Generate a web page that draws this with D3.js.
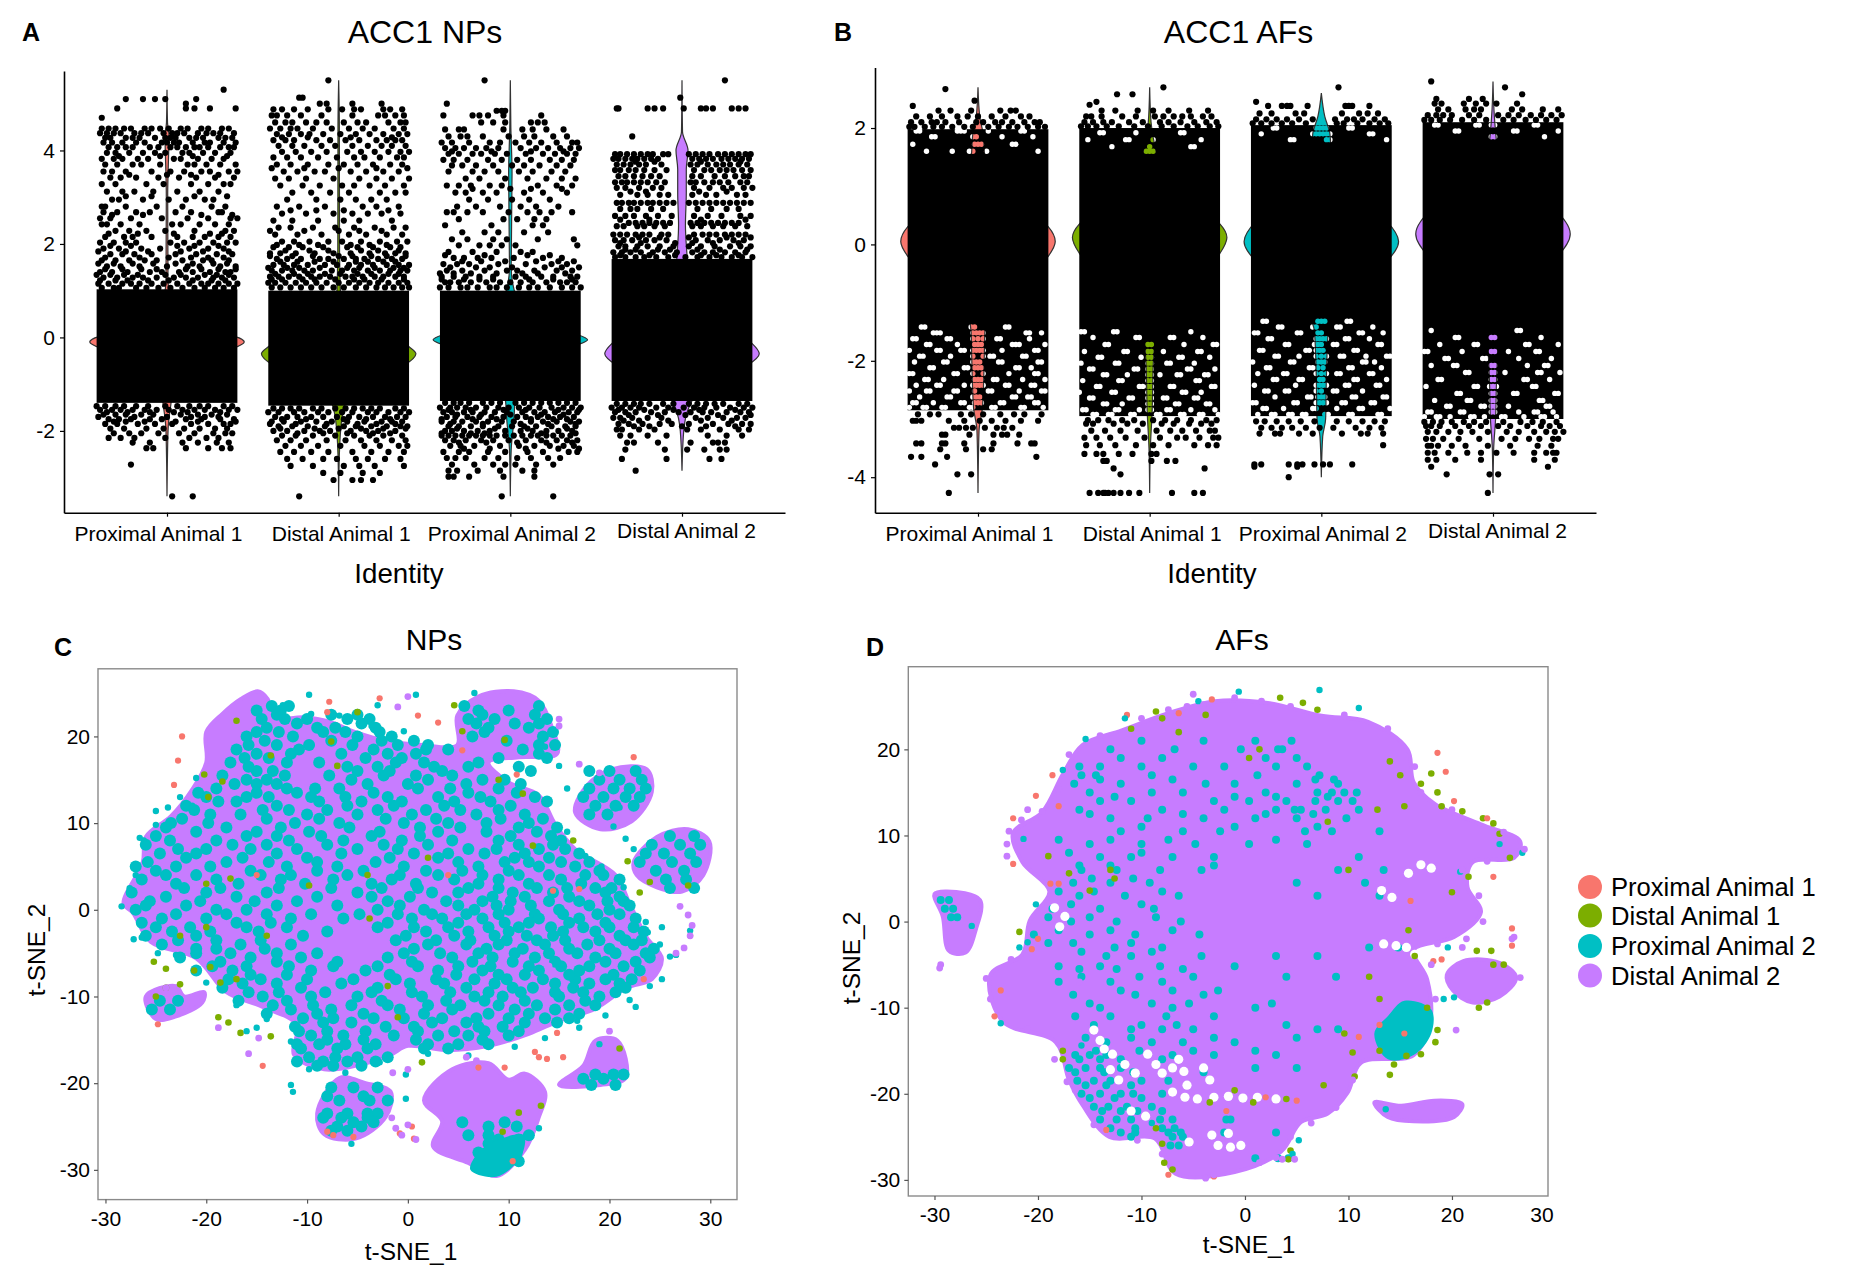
<!DOCTYPE html>
<html>
<head>
<meta charset="utf-8">
<script src="https://cdn.jsdelivr.net/npm/d3@7"></script>
<style>
body { margin: 0; background: #fff; }
text { font-family: "Liberation Sans", sans-serif; fill: #000; }
</style>
</head>
<body>
<svg id="fig" width="1856" height="1276"></svg>
<script>
const identities = ["Proximal Animal 1", "Distal Animal 1", "Proximal Animal 2", "Distal Animal 2"];
const colors = ["#F8766D", "#7CAE00", "#00BFC4", "#C77CFF"];

// solid part of each jitter cloud: [top, bottom]
const npsCore = [[1.03, -1.4], [1.0, -1.46], [1.0, -1.36], [1.68, -1.36]];
const afsCore = [[1.98, -2.85], [2.0, -2.95], [2.05, -2.95], [2.1, -3.0]];

// violin outlines: [value, half width in % of category step]
const npsViolin1 = [[5.3,0],[4.6,.3],[4.3,1.2],[4,1],[3,.4],[1.2,.6],[.6,5],[.3,14],[.1,34],[-.1,45],[-.3,34],[-.6,14],[-1.1,4],[-1.5,2],[-2,.6],[-3.4,0]];
const npsViolin2 = [[5.5,0],[4.5,.4],[2,.5],[1,1],[.5,6],[.1,28],[-.2,41],[-.35,45],[-.6,38],[-1,10],[-1.7,2],[-2.5,.4],[-3.4,0]];
const npsViolin3 = [[5.5,0],[4.5,.3],[3.5,1],[1.5,.5],[.8,4],[.3,18],[.1,36],[-.05,45],[-.2,36],[-.6,14],[-1.3,3],[-1.8,2],[-2.4,.5],[-3.4,0]];
const npsViolin4 = [[5.5,0],[4.4,.3],[4,3.5],[3.6,2.5],[3.1,2.5],[2.4,2],[1.7,3],[1,4],[.3,24],[-.1,40],[-.35,45],[-.6,38],[-1,14],[-1.5,4],[-2,1],[-2.85,0]];
const afsViolin1 = [[2.7,0],[2.2,1],[1.9,3],[1.5,4],[1,10],[.6,28],[.3,41],[.05,45],[-.2,41],[-.6,26],[-1,10],[-1.5,4],[-2,3.6],[-2.8,2.6],[-3.2,.6],[-4.27,0]];
const afsViolin2 = [[2.7,0],[2.1,.8],[1.7,3],[1,12],[.6,30],[.35,41],[.12,45],[-.15,41],[-.6,26],[-1.2,6],[-2,2.2],[-2.9,1.4],[-3.5,.4],[-4.27,0]];
const afsViolin3 = [[2.6,0],[2.2,2],[1.9,5],[1.4,6],[.8,20],[.4,38],[.05,45],[-.3,38],[-.8,18],[-1.5,4],[-2.2,3],[-3,2.5],[-3.3,.8],[-4,0]];
const afsViolin4 = [[2.8,0],[2.2,.8],[1.6,3],[1,18],[.6,36],[.18,45],[-.2,38],[-.7,20],[-1.4,4],[-2.4,2],[-3,1.5],[-3.5,.4],[-4.27,0]];

// jitter rows: [value, offsets in % of category step...]
const npsDots1 = [
[5.3,33],[5.1,-24,-14,-7,-1,17],[5,11],[4.9,-29,11,16,25,40],[4.7,-38],
[4.47,-38,-34,-30,-25,-21,-13,-9,-4,1,8,12,20,24,32,36],
[4.37,-39,-35,-31,-27,-19,-15,-11,-2,3,6,10,18,23,27,31,39],
[4.27,-36,-33,-24,-20,-16,-7,-1,2,5,13,17,21,30,34,38],
[4.17,-37,-32,-26,-18,-13,-3,0,4,7,15,22,25,33,40],
[4.07,-34,-29,-24,-20,-10,-5,2,6,11,16,19,24,31,36,39],
[3.95,-35,-30,-22,-14,-7,-1,9,13,21,28,37],[3.82,-38,-31,-26,-17,-11,4,8,18,26,33],
[3.7,-36,-29,-20,-15,-4,12,16,23,31,40],[3.55,-37,-32,-24,-9,2,10,20,25,36,41],
[3.42,-33,-27,-18,-5,7,17,28,39],[3.28,-38,-30,-12,-2,14,24,33,37],[3.12,-35,-26,-19,-8,6,19,30],
[2.95,-32,-28,-14,1,11,22,27],[2.8,-38,-36,-24,-6,9,26,34],[2.68,-37,-29,-18,-10,5,14,30,32],
[2.55,-39,-33,-21,-3,12,24,37,41],[2.42,-38,-35,-27,-16,3,8,19,28,36],[2.28,-30,-22,-12,-1,16,34,39],
[2.15,-36,-25,-20,-9,6,15,22,30,37],[2.03,-39,-31,-24,-18,2,10,19,27,35,40],[1.9,-37,-28,-15,-4,13,24,33],
[1.78,-33,-26,-19,-9,5,17,29,38],[1.65,-38,-30,-22,-13,-6,9,21,26,36],[1.52,-35,-27,-16,0,12,19,31,40],
[1.4,-39,-32,-23,-10,-3,7,15,25,34,37],[1.28,-37,-29,-20,-14,-6,4,11,18,27,32,39],
[1.15,-40,-34,-26,-21,-16,-9,-2,6,13,20,24,30,36,41],[1.06,-38,-31,-28,-18,-12,-5,2,9,16,22,28,33,39],
[-1.47,-41,-36,-30,-25,-18,-11,-1,6,13,19,24,33,38],
[-1.55,-39,-32,-27,-20,-13,-6,1,9,16,22,28,36,41],[-1.65,-37,-30,-24,-15,-8,8,18,26,35],
[-1.75,-34,-28,-21,-10,-3,11,20,31,39],[-1.85,-36,-29,-17,-7,3,14,24,33,37],[-1.95,-33,-25,-12,-2,10,19,28,35],
[-2.05,-31,-22,-15,-5,7,16,27,34,38],[-2.15,-34,-27,-19,-1,13,23,30],[-2.25,-20,-10,9,18,29,36],[-2.37,-12,-8,11,24,32,37],
[-2.72,-21],[-3.4,3,15]];
const npsExtra1 = [[3.88,-28,-4,15,35],[3.48,-22,0,14,30],[3.02,-24,-9,16,35],[2.62,-32,-14,20,38],[2.22,-34,-17,4,25,32],[1.96,-33,-21,6,16,30],[1.84,-40,-24,-11,8,21,36],[1.71,-36,-16,1,14,24,33],[1.58,-40,-31,-20,-8,5,15,27,35],[1.46,-36,-26,-15,-6,11,20,30,40],[1.34,-41,-33,-25,-17,-1,8,22,29,36],[1.22,-39,-30,-23,-11,1,15,26,34],[-1.6,-35,-23,-10,4,12,31],[-1.7,-40,-19,0,14,22,30],[-1.8,-31,-24,-13,5,18,40]];
const npsDots2 = [
[5.5,-6],[5.13,-23,-21],[5,-11,-7,8,25],[4.88,-38,-33,-26,-18,-6,2,9,13,26,30,37],[4.75,-39,-36,-30,-22,-10,8,23,27,33,38],
[4.6,-37,-31,-27,-19,-13,-7,3,11,16,29,36,39],[4.47,-40,-34,-28,-24,-15,-4,6,14,21,32,38],[4.35,-36,-29,-22,-17,-9,1,10,18,26,35,40],
[4.22,-38,-31,-26,-13,-5,4,12,22,28,33,37],[4.1,-35,-27,-20,-10,-2,8,17,25,31,39],[3.97,-33,-25,-16,-7,5,13,21,29,36,41],
[3.85,-38,-30,-22,-12,-1,9,15,24,34,38],[3.7,-36,-28,-18,-6,3,11,20,30,37],[3.55,-32,-24,-14,-8,7,16,26,35],
[3.4,-37,-29,-19,-3,12,22,31,41],[3.25,-34,-21,-11,2,9,18,27,38],[3.1,-27,-16,-5,6,24,33,39],[2.95,-30,-13,1,10,19,28],
[2.8,-36,-23,-8,14,22,35],[2.65,-33,-19,-3,8,17,25,36],[2.5,-38,-27,-12,3,12,31],[2.35,-35,-28,-15,-2,9,21,32,39],
[2.2,-37,-24,-10,6,16,28,37],[2.05,-33,-26,-17,-6,2,13,24,34,40],[1.93,-38,-29,-21,-9,5,11,20,30,36],
[1.8,-40,-34,-25,-14,-3,7,18,27,33,39],[1.68,-36,-30,-22,-11,-6,3,10,15,23,31,37],[1.55,-38,-32,-26,-18,-8,-1,6,13,20,28,35,41],
[1.43,-39,-33,-27,-20,-15,-4,2,9,17,24,30,36,40],[1.3,-40,-35,-29,-23,-16,-11,-5,4,8,14,21,26,33,38],
[1.17,-41,-37,-31,-25,-19,-13,-7,0,6,12,18,23,29,35,40],[1.07,-39,-34,-28,-22,-16,-10,-3,3,10,16,22,27,32,37,41],
[-1.52,-38,-33,-28,-23,-15,-10,-2,4,9,14,19,24,33,38],
[-1.6,-41,-35,-26,-20,-12,-6,2,8,17,22,29,36,41],[-1.7,-37,-30,-24,-16,-9,-1,6,12,20,27,34,39],[-1.8,-39,-32,-22,-13,-4,5,15,25,31,37],
[-1.9,-35,-27,-18,-8,3,10,19,28,36,40],[-2,-38,-30,-20,-11,-5,7,16,23,33],[-2.1,-33,-25,-15,-2,9,18,26,37],[-2.2,-36,-28,-19,-7,4,13,22,31,39],
[-2.32,-31,-22,-12,1,15,24,35,40],[-2.45,-34,-26,-16,-6,8,19,29,38],[-2.6,-30,-21,-9,-1,10,17,27,36],[-2.75,-28,-15,3,12,21,38],
[-2.9,-9,1,14,24],[-3.05,-3,8,13,20],[-3.4,-23]];
const npsExtra2 = [[4.28,-33,-18,7,31],[3.62,-39,-20,0,22,40],[2.72,-28,-13,3,29],[2.28,-40,-20,0,12,25],[1.98,-36,-23,-12,7,18,28],[1.86,-31,-17,-6,13,23,35],[1.74,-40,-27,-15,0,8,19,28,39],[1.62,-34,-24,-14,-3,10,17,26,33],[1.49,-41,-30,-23,-11,5,12,21,32,38],[1.36,-37,-26,-18,-8,1,11,19,29,35],[1.24,-39,-33,-21,-14,-2,9,15,25,38],[-1.75,-33,-19,3,16,30],[-1.85,-40,-25,-7,11,22,33],[-1.95,-34,-14,0,13,26,39],[-2.05,-24,-9,5,20,30]];
const npsDots3 = [
[5.5,-15],[5,-37],[4.85,-8,-5,-3],[4.75,-39,-22,-18,-13,-4,18],[4.6,-17,-10,-3,12,16,20],
[4.45,-38,-30,-27,-4,7,13,21,31],[4.3,-36,-29,-25,-16,-1,8,14,25,33],[4.17,-40,-34,-24,-12,-6,3,11,18,27,36,39],
[4.05,-38,-32,-27,-20,-14,-7,6,15,22,29,35,40],[3.93,-36,-30,-22,-17,-9,-2,9,19,26,33,38],[3.8,-39,-33,-25,-13,-5,4,12,23,30,37],
[3.68,-34,-28,-20,-10,1,8,17,27,35],[3.55,-36,-22,-15,-7,5,13,24,32],[3.4,-26,-18,-3,10,21,30,38],
[3.25,-37,-30,-23,-12,-5,16,27,36],[3.1,-32,-26,-16,-8,8,19,33],[2.95,-24,-13,1,11,23],[2.8,-31,-20,-6,6,15,28],
[2.68,-37,-33,-25,-16,-1,10,17,24,36],[2.53,-30,-4,4,14,21],[2.4,-38,-11,13,19],[2.25,-28,-15,-7,8,22],
[2.1,-34,-25,-10,-2,16,37],[1.97,-30,-18,-12,-5,3,39],[1.83,-36,-22,-8,6,13],[1.7,-33,-27,-19,-11,2,19,30],
[1.57,-39,-31,-24,-7,9,24,33],[1.43,-37,-28,-15,-2,4,14,27,36],[1.3,-40,-33,-26,-18,-10,3,9,18,25,35,39],
[1.18,-38,-35,-30,-23,-14,-6,0,6,13,21,29,33,38],[1.07,-41,-36,-29,-25,-19,-12,-8,-2,5,11,16,23,30,36,41],
[-1.4,-38,-33,-29,-24,-16,-11,-6,3,8,13,18,23,28,33,38],
[-1.5,-41,-35,-31,-26,-20,-14,-7,-1,5,11,17,24,31,36,41],[-1.6,-39,-34,-27,-22,-15,-9,-2,7,14,20,26,34,39],
[-1.7,-37,-32,-25,-18,-11,-4,4,9,16,22,29,37],[-1.8,-40,-33,-28,-20,-13,-5,2,12,19,27,35,40],[-1.9,-36,-30,-23,-16,-7,1,8,15,24,32,38],
[-2,-38,-34,-27,-19,-12,-3,6,13,21,28,36],[-2.1,-40,-36,-32,-28,-24,-20,-16,-12,-8,-3,2,7,12,16,21,25,30,35],
[-2.2,-38,-33,-26,-17,-10,-1,9,18,27,33,39],[-2.32,-35,-29,-21,-6,5,14,23,31,37],[-2.45,-39,-30,-24,-13,-3,10,19,34,39],
[-2.58,-37,-32,-26,-15,-7,4,12,22,29],[-2.72,-34,-21,-10,-3,3,15,25],[-2.85,-36,-31,-19,-6,7,14],[-2.98,-36,-33,-24,-4,14],[-3.4,-5,25]];
const npsExtra3 = [[3.98,-34,-11,12,31],[3.18,-22,0,12,30],[1.76,-38,-15,10,23],[1.63,-28,-17,-3,15,28,37],[1.5,-35,-20,-12,1,20,30,40],[1.37,-41,-33,-23,-8,7,16,32],[1.24,-40,-27,-18,-10,11,25,36],[-1.55,-36,-23,-4,9,28,40],[-1.65,-31,-17,0,18,31],[-1.75,-40,-22,-8,12,25,33],[-1.85,-35,-16,6,22,38],[-1.95,-31,-9,10,33],[-2.05,-40,-23,-15,18,38],[-2.25,-30,-14,4,21,36],[-2.38,-27,-12,9,28,40]];
const npsDots4 = [
[5.5,25],[5.13,-1],[4.9,-38,-37,-20,-16,-11,1,11,14,18,29,33,37],[4.3,-29],
[3.92,-39,-36,-32,-28,-24,-20,-17,-11,-8,4,8,12,16,21,25,29,33,37,40],
[3.82,-40,-37,-33,-29,-26,-22,-18,-14,6,10,14,18,23,27,31,35,39],
[3.7,-38,-34,-30,-25,-21,-12,5,9,15,20,24,28,33,38],[3.58,-39,-36,-31,-27,-22,-16,-9,7,13,17,22,26,30,35,40],
[3.45,-37,-33,-28,-23,-18,-13,6,11,19,25,31,36,39],[3.32,-39,-35,-32,-28,-24,-20,-15,-10,5,8,13,18,22,27,34,38],
[3.2,-38,-33,-25,-17,-12,7,16,24,29,36,41],[3.05,-36,-26,-20,-13,-8,6,14,20,32,37],
[2.88,-38,-35,-31,-28,-24,-20,-17,-13,-9,-5,4,8,12,16,20,24,28,32,36,40],[2.75,-36,-30,-26,-18,-11,9,17,26,33],
[2.6,-39,-33,-28,-21,-14,-6,7,15,23,34,40],[2.45,-31,-27,-23,-19,-15,-11,-7,5,9,13,17,21,25,29,33],
[2.38,-38,-34,-26,-22,-16,-10,6,11,18,24,31,38],[2.2,-40,-36,-32,-27,-23,-19,-12,-8,7,12,16,20,25,29,33,37],
[2.08,-39,-34,-29,-21,-16,-9,8,15,22,30,36],[1.95,-37,-33,-26,-20,-13,-5,4,11,19,28,34,40],
[1.82,-40,-35,-30,-24,-17,-10,-3,6,13,18,25,31,37],[1.72,-39,-33,-27,-22,-15,-8,2,9,16,23,29,35,41],
[-1.42,-38,-33,-28,-24,-19,-11,-5,4,9,14,19,24,33,38],
[-1.5,-41,-35,-30,-25,-15,-8,1,7,13,20,28,36,41],[-1.6,-39,-33,-27,-18,-10,-2,5,12,17,26,34,39],
[-1.72,-40,-36,-29,-20,-12,8,15,24,32,37],[-1.85,-37,-31,-23,-13,-6,4,18,27,35,40],[-1.97,-38,-35,-25,-16,3,11,22,33,39],
[-2.1,-36,-30,-20,-9,15,26,35],[-2.25,-32,-28,-14,5,18,21,25],[-2.4,-33,-10,3,13,22,26],[-2.6,-35,-9,16,23],[-2.85,-27]];
const npsExtra4 = [[3.76,-27,-16,11,34],[3.12,-30,-21,10,26],[2.52,-36,-19,11,37],[2.14,-25,-13,4,26,40],[2.02,-36,-24,-4,6,18,33],[1.88,-33,-27,-14,-7,9,22,38],[1.76,-36,-19,-4,11,20,33],[-1.55,-37,-22,-5,10,31],[-1.66,-31,-14,2,21,40],[-1.78,-34,-25,-8,11,29],[-1.9,-28,-19,0,14,31]];

const afsDots1 = [
[2.67,-19],[2.47,-2],[2.38,-38],[2.3,-23,-16,-4,13,19,22],[2.2,-36,-28,-21,-12,-6,0,8,16,25,30],
[2.1,-39,-33,-27,-24,-19,-11,-1,3,10,14,20,27,33,36],[2.02,-40,-37,-31,-26,-21,-15,-8,-3,6,12,18,23,29,35,39],
[-2.92,-35,-28,-23,-10,-4,3,13,21,27,37],[-3.03,-38,-36,-33,-17,-8,1,8,16,25,35],
[-3.15,-14,-11,-7,-3,4,11,15,20],[-3.27,-21,-19,-5,9,14,17,24],[-3.42,-36,-33,-21,-19,-8,9,23,31,33],[-3.52,-22,-7,3,8],
[-3.65,-39,-33,-18,34],[-3.78,-25],[-3.95,-12,-4],[-4.27,-17]];
// gaps between the points inside a solid band, same layout as the rows
const afsHoles1 = [
[1.95,-36,-34,-12,-10,-8,6,25,27],[1.85,-27,-25,-3,-1,14,32],[1.72,-38,-2,0,2,20,22],[1.6,-30,-15,-5,-3,5,35],
[-1.42,-33,-31,-4,-2,16,18],[-1.52,-26,-24,-22,-3,-1,1,3,28,30,37],[-1.62,-38,-36,-18,-16,-3,0,3,11,13,30],[-1.72,-30,-28,-12,-2,0,2,20,22,24,39],
[-1.82,-40,-24,-22,-10,-8,-3,-1,1,3,14,33,35],[-1.92,-34,-32,-16,-3,3,7,9,26,28],[-2.02,-37,-20,-18,-3,-1,1,12,14,35,37],[-2.12,-28,-26,-8,-6,-2,0,2,22,24,31],
[-2.22,-40,-38,-14,-12,-3,3,18,33,35],[-2.32,-31,-29,-20,-2,0,2,9,11,26,39],[-2.42,-36,-24,-22,-8,-3,-1,1,3,16,18,31,33],[-2.52,-40,-30,-28,-14,-12,-2,6,8,24,37,39],
[-2.62,-34,-18,-16,-3,-1,1,20,22,29,31],[-2.72,-38,-36,-26,-10,-8,-2,0,2,13,15,33,35],[-2.8,-40,-32,-30,-21,-19,-5,-3,8,10,25,27,38]];
const afsDots2 = [
[2.7,8],[2.58,-19,-10],[2.45,-31],[2.4,-35],[2.3,-28,-20,-7,2,11,23,34],[2.2,-37,-34,-28,-16,-8,3,8,14,19,24,31,36],
[2.1,-38,-33,-27,-22,-12,-4,6,11,18,26,33,39],[2.03,-40,-36,-31,-25,-18,-9,-1,7,14,22,28,35,40],
[-3.02,-36,-30,-24,-16,-9,2,9,16,24,33,39],[-3.08,-37,-33,-21,-13,-4,7,14,23,30,36],
[-3.2,-34,-26,-17,-7,4,12,19,27,35,38],[-3.32,-38,-31,-23,-14,-3,6,16,21,29,37,40],[-3.45,-37,-29,-20,-8,2,11,26,34,39],
[-3.6,-38,-31,-27,-18,-10,1,4],[-3.72,-27,-25,1,10,15],[-3.85,32,-21],[-3.95,-17],[-4.27,-35,-30,-27,-26,-24,-21,-17,-12,-6,13,26,31]];
const afsHoles2 = [
[1.92,-29,-27,-8,18,20],[1.8,-36,-14,-12,2,30],[1.68,-22,0,24,26],[1.6,-2,0,2],
[-1.5,-40,-38,-21,-19,24],[-1.6,-33,-8,-6,12,14,31],[-1.72,-26,-24,-1,1,20,37,39],[-1.84,-38,-15,-13,-1,1,8,28,30],[-1.94,-30,-28,-5,-1,1,17,19,35],
[-2.04,-40,-20,-18,-1,1,10,12,26],[-2.14,-35,-33,-9,-7,-1,1,22,24,38],[-2.24,-27,-25,-13,-1,1,6,16,18,32,34],[-2.34,-39,-18,-16,-1,1,27,29],
[-2.44,-31,-29,-6,-4,-1,1,12,14,36,38],[-2.54,-41,-22,-20,-1,1,19,21,30],[-2.64,-35,-33,-12,-10,-1,1,8,10,26,28],[-2.74,-27,-25,-16,-1,1,15,17,33,35],
[-2.84,-39,-37,-20,-18,-6,-1,1,10,12,24,38],[-2.92,-33,-31,-24,-22,-11,-9,4,6,18,20,29,31,40]];
const afsDots3 = [
[2.7,10],[2.45,-38],[2.38,-31,-23,-20,-18,-8,14,16,18,28],[2.25,-36,-29,-15,-10,12,22,27,33],[2.15,-38,-32,-26,-20,-13,-5,8,15,19,24,31,37],
[2.08,-40,-35,-29,-23,-17,-9,9,13,21,28,34,39],
[-3.04,-38,-33,-26,-19,-12,-4,9,16,24,31,37],[-3.15,-35,-29,-23,-17,-9,-1,7,20,28,35],
[-3.25,-36,-27,-24,-13,-5,12,23,27,36],[-3.45,36],[-3.78,-39,-35,-19,-14,-11,-4,1,5,18],[-3.82,-39,-14],[-4,-19]];
const afsHoles3 = [
[2,-28,-26,-3,-1,1,3,16,18],[1.9,-35,-5,-3,-1,1,3,5,28,30],[1.8,-18,-16,3,5,38],
[-1.32,-34,-32,-2,0,2,15,17],[-1.42,-25,-23,-5,-3,9,11,30],[-1.52,-39,-37,-14,-12,-2,0,22,24,36],[-1.62,-31,-29,-3,-1,1,3,14,16,28],[-1.72,-21,-19,-4,-2,0,7,9,33,35],
[-1.82,-36,-34,-9,-7,-3,-1,1,19,21],[-1.92,-27,-25,-13,-3,0,3,11,13,26,38,40],[-2.02,-40,-18,-16,-2,0,2,24,26,31],[-2.12,-32,-30,-7,-5,-2,1,16,18,35],
[-2.22,-37,-22,-20,-3,0,3,9,11,28,30],[-2.32,-28,-26,-13,-11,-1,1,19,21,38],[-2.42,-39,-15,-3,-1,1,3,14,16,32,34],[-2.52,-33,-31,-21,-19,-3,0,7,9,24],
[-2.62,-27,-8,-6,-2,0,2,18,20,36,38],[-2.72,-40,-38,-16,-14,-3,-1,1,3,12,14,29,31],[-2.82,-34,-32,-22,-5,-3,9,22,24,40],[-2.92,-37,-29,-27,-19,-17,-11,-9,2,4,16,18,33,35]];
const afsDots4 = [
[2.8,-36],[2.7,7],[2.58,17],[2.5,-33,-14,-6],[2.42,-34,-30,-17,-10,-4,2,14],[2.32,-32,-26,-16,-11,-7,11,17,29,38],
[2.22,-38,-33,-29,-24,-14,-8,3,9,15,22,28,34,40],[2.14,-40,-36,-31,-25,-18,-11,-4,6,12,19,25,31,37],
[-3.05,-40,-35,-30,-24,-17,-11,-4,6,16,23,29,37],[-3.12,-39,-36,-31,-22,-14,-7,3,10,20,28,33,39],
[-3.22,-38,-33,-26,-19,-12,-3,8,15,24,31,36,41],[-3.34,-39,-35,-29,-20,-8,5,13,21,27,35,38],[-3.46,-38,-36,-32,-24,-16,-3,10,26,34],
[-3.58,-38,-34,-26,-15,-7,2,12,24,31,35,37],[-3.7,-38,-33,-22,-7,24,36],[-3.82,-36,32],[-3.95,-27,-2,3],[-4.27,-3]];
const afsHoles4 = [
[2.05,-34,-32,-10,-8,-1,1,24,26],[1.95,-22,-20,12,14,38],[1.85,-1,1,30],
[-1.48,-36,14,16],[-1.6,-22,-20,-1,1,28],[-1.72,-31,-11,-9,19,21,38],[-1.84,-40,-38,-18,-1,1,9,25,27],[-1.96,-28,-26,-6,-4,15,34],[-2.08,-36,-23,-21,-1,1,20,30,32],
[-2.2,-16,-14,-1,1,7,26,28,39],[-2.32,-32,-30,-1,1,18,20,33],[-2.44,-39,-11,-9,-2,0,2,23,25],[-2.56,-21,-19,-1,1,12,14,36,38],[-2.68,-34,-15,-13,-1,1,27,29],
[-2.78,-27,-25,-7,-5,-1,1,9,31,33],[-2.88,-38,-36,-19,-17,-1,1,15,24,26,35],[-2.96,-40,-33,-31,-25,-13,-11,-5,5,7,18,28,30,37]];

// t-SNE silhouettes: [t-SNE_1, t-SNE_2]
const npsMain = [[-28.2,.7],[-26.3,5.5],[-26,8.4],[-23.5,10.8],[-21.5,13.7],[-20,17],[-20,20.5],[-18.4,22.6],[-16.6,24.3],[-14.9,25.2],[-13.9,24.3],[-13.3,22.2],[-10.3,22.2],[-7.8,21.7],[-5.2,20.5],[-2.2,19.5],[1.4,19],[4.9,19],[4.9,22.4],[7,24.6],[10.5,25.2],[13,24.1],[14.3,21],[14.8,18],[11,17.6],[8,17],[10,14.7],[13,13.2],[14.6,9.9],[16.6,7],[20.6,4],[22,.7],[23.7,-3.2],[25.2,-5.6],[24.2,-8],[21.7,-9],[18.6,-11.4],[15,-12.8],[12,-14.3],[8,-15.7],[3.9,-16.2],[0,-15.7],[-1.7,-16.7],[-4.2,-17.7],[-8.3,-18.4],[-11.3,-16.7],[-11,-13.3],[-14.4,-11.2],[-18,-9.5],[-21,-5.6],[-25.5,-3.7],[-27.3,-.3]];
const npsLobes = [
[[16.6,11.2],[17.6,14.1],[20.2,16.2],[23.7,16.2],[24.2,13.6],[22.2,10.2],[19.1,9.3]],
[[22.4,5.5],[24.7,8.4],[27.8,9.3],[29.9,7.9],[29.3,4],[27.2,2.1],[24.7,2.6],[22.7,4]],
[[-26,-10],[-23,-8.8],[-22.2,-10],[-20.2,-9.5],[-20.4,-10.7],[-23,-12.3],[-25,-12.6]],
[[-9,-23.5],[-6.8,-19.4],[-4.2,-20],[-1.7,-21],[-2.2,-23.9],[-5.2,-26.4],[-8.3,-25.9]],
[[1.6,-22],[4.4,-18.4],[8,-17.7],[10,-19.6],[11.6,-18.9],[13.6,-21],[13,-23.9],[11.6,-27.7],[8.8,-30.7],[6,-29.2],[2.5,-27.3],[3.4,-24.4]],
[[15,-20.2],[17.4,-18],[18.6,-15.1],[20.8,-15.1],[21.6,-19.4],[19.1,-20.2]]];
const npsTealBlobs = [[[6.2,-30],[8.8,-30.8],[11.2,-28.5],[11.5,-26],[9,-26.5],[7,-28]]];

// teal marks: [t-SNE_2, t-SNE_1...]
const npsTeal = [
[23.5,-13.5,-11.8,5.6,13],[22,-14.5,-12.2,-10,-6,-3.8,6,8.6,13.8],[20.5,-15,-12.8,-8.4,-6.2,-2.8,7.6,14.4],[19,-15.8,-13,-9.8,-5.5,-1,2,13,14.6],
[17.5,-16.2,-13.8,-4.2,-.6,9,13.8],[16,-15,-13.4,-5,-1.8,3.4,12.2],[14.5,-17.2,-15,-13,-4,0,5.8,11.2],
[13,-20,-16,-13.8,-9.6,-6.2,-2,3,7.2,12.6],[11.5,-21.2,-14.4,-11.8,-8,-3,1.8,5.2,9],[10,-23.5,-19.8,-11.2,-6.8,-.4,4,7.8,12],
[8.5,-25,-16,-13,-8.6,-3.6,1.2,10.2,14.2],[7,-22.8,-20,-15.6,-11,-5,-1,6,8.8,13,15.6],[5.5,-25.8,-18,-13.8,-9,-3.2,5,9.6,12,15.2,18],
[4,-24,-21,-14.6,-11.6,-6,-.8,3,7.4,11,14,17.6,19.4],[2.5,-22.2,-18.6,-12.8,-7.6,-2.6,1,6,9,12.8,15.8,18.6,20.2],
[1,-25.6,-20.6,-15.2,-11,-2,3.8,7.4,10.2,14,17,19.8,21.4],[-.5,-23,-18,-14,-9.6,-4.8,-1,2.4,5.8,9,12.6,15.4,18.8,21],
[-2,-25,-21.6,-16,-12,-3,.6,4,8,11,14.2,17.4,20,22.4],[-3.5,-22.8,-19,-14.6,-1.2,2.8,6.2,9.8,12.8,15.6,19,21.6,23.2],
[-5,-21,-17.6,-13,-9,-.4,3.2,7,10.6,14,16.8,20.6,23.6],[-6.5,-19.4,-16,-11.8,-7.4,-3,1,5,8.2,12,15.2,18,21.4],
[-8,-17.8,-14.6,-10,-5.4,-1.2,2.8,6.6,9.8,13.4,16.6,19.6,22.2],[-9.5,-15.8,-12.8,-8.2,-3.6,.4,4.2,8,11.2,14.6,17.4,20.6],
[-11,-13.4,-9.4,-5.6,-2,2,5.2,9,12.8,16,18.6],[-12.5,-10.4,-7.4,-3.4,-.4,3.4,6.8,10,13.6,16],[-14,-10.8,-8,-4.2,1,4.6,7.6,11],
[-15.5,-11,-8.8,-6.2,-3.2,2,5,8],[-17,-9.8,-7.2,-5,-2],[-20.2,18.2,20.6],[-22,-6.8,-3.8,-2],[-23.5,-8,-6,-4,-3],[-25,-7,-4.6,8,10.8],[-26.5,9,11],[-28,7,9.2,10.8]];
const npsTeal2 = [
[23,-15,-12.6,7,10],[22.5,-13,-7.6,-5,7.4,12.6],[21.5,-11,-4.6,6.8,10.6,13],[21,-14,-9,-7.2,-3.2,8,12],[20,-16,-11.4,-5,-1.6,6.4,13.4],[19.5,-14.2,-7.6,-2.6,.6,9.8],
[18.5,-17,-10.8,-3.4,1.8,4,11.4],[18,-15,-11.6,-6.6,-2,.8,13],[17,-17.6,-12,-8.8,-1.2,1.6,7],[16.5,-15.8,-6,-3,2.6,6,11],[15.5,-18.4,-12.2,-7.8,-2.4,.8,4.4],[15,-16,-14,-5.6,2,7.4,9.6],
[14,-19,-12,-9.2,-6.8,1,4.2,9],[13.5,-20.8,-15,-11,-3.4,6,10.8],[12.5,-18.8,-17,-8.8,-4.6,-.6,4.6,8.2,13.8],[12,-22,-13,-6,-1.4,3.6,10.2],[11,-19.6,-16.6,-10,-5,.4,6.8,11.6],[10.5,-22.4,-14,-8.8,-2.2,2.8,9.2,13.4],
[9.5,-24,-18,-12.6,-5.8,1.2,5.2,11,14.8],[9,-21,-15,-9.8,-2.8,3,7.8,12.8],[8,-23.6,-19,-11.8,-6.4,-.6,4.4,9,15.2],[7.5,-26,-17.4,-14,-8,-2.4,2,11,14.4],[6.5,-24.6,-21,-13,-6.6,.6,4,7.6,11.6,17],[6,-22,-16.4,-10,-1.8,3,10.6,14],
[5,-27,-23,-19.6,-12,-7,-.4,7,13,16.6],[4.5,-25,-15.6,-9,-4.4,1.8,5.4,10,19],[3.5,-26.4,-19,-12.6,-7.4,-1.6,4.6,9,15.2,21],[3,-23,-16.8,-10.2,-3.6,.8,7,12,17.2],[2,-27.4,-20,-14,-5,2.4,5,10.4,14.4,19.6],[1.5,-24,-17,-9,-3.6,.2,8.4,11.6,16,21],
[.5,-26,-22,-13,-7,-.8,5,8.8,12.2,18,22],[0,-27,-19,-16,-3,1.6,6.6,10,15,20],[-1,-24.4,-20,-11.6,-6.4,.4,3.4,7.4,13,17,22.6],[-1.5,-26.4,-17,-13.6,-2,5,9.6,12,16,19.6],[-2.5,-23.4,-19.6,-14.8,-8,1.8,6,10,15.4,18.6,23.4],[-3,-26,-21,-10.4,-.2,4.6,8.6,11.8,14.4,21],
[-4,-24.4,-16.6,-11.6,2,5.8,9,13.6,17.8,22.4],[-4.5,-21,-19,-14.2,.6,7.8,11.4,16,20,24.4],[-5.5,-22.6,-15.6,-10.6,-2,4.4,8.4,12.6,18.6,24],[-6,-18.6,-13,-7,.4,6.4,10.4,14.6,19.6,22.6],[-7,-21,-17.4,-9.6,-4.2,3,7.4,13,17,23],[-7.5,-15.6,-12,-1.8,4.8,9,11.6,16,20.4],
[-8.5,-16.4,-13,-6.6,.2,3.6,8.6,14.6,18,21],[-9,-18.4,-10.6,-3,5.8,10.4,12.4,16.4,21.6],[-10,-14.4,-9.6,-5,1.4,6.6,9.4,15,19],[-10.5,-16.8,-12,-2.6,3.8,7.6,11.6,17.6],[-11.5,-11.6,-7.6,-.8,4.4,10.6,14.6],[-12,-14,-9,-4.4,1.6,8,12,17],
[-13,-8.4,-5.6,2.4,5.8,11.6,14.8],[-13.5,-11.2,-2.2,.6,7,9.4],[-14.5,-9.6,-6.4,-1.4,3,6,10],[-15,-8,-4.4,.8,7.4],[-16,-10.6,-7,-4,1.6,4],[-17.5,-11,-8.4,-6,-3.2],[-18,-9,-7.4,-4.6],
[16,18,20,22.6],[15,19,21,23.2],[14,18,20.4,22,23.6],[13,17.4,19.4,21.6,23],[12,18.6,20.6,22.4],[11,18,19.8],[8.5,26,28.4],[7.5,24.2,27,29],[6.5,23.6,25.4,28],[5.5,23,26.2,28.6],[4.5,24.6,27.4],[3.5,25.6,27.6],[2.5,26,28.4],
[-10.5,-24.6,-22.8],[-11.5,-25.4,-23.6],[-20.5,-7.6,-5.4,-3],[-21.5,-8,-4.4],[-24,-8.4,-6.6,-4],[-24.5,-5.4,-3.4],[-25.5,-7.6,-6],[-19,18.6,20.4,21.4],[-19.5,17.4,19.4],[-24.5,5.4,9.6],[-26,6,8,12],[-27,8,10.4],[-29,7.4,9.8,11],[-29.5,8,9.6]];
const npsGreen = [[-25,-10],[-24,-9],[-22.6,-8.6],[-21.2,-7],[-19.6,-6.6],[-18.6,-8.4],[-17,-8],[-20,-2],[-25.2,-6],[-24,-6.8],[-22.6,-3],[-19.8,13],[-18.4,14.8],[-20.2,15.6],[-17,21.8],[-13.6,17.8],[-7.6,19.4],[-7,16.6],[-5,22.8],[9,15],[11.4,13.4],[12.4,7.4],[16.4,8],[9.6,19.6],[5.4,20.6],[4.6,23.6],[-3.8,-1],[-9.8,2.8],[-20,3],[-17.6,3.6],[-14,-3],[-4,4],[2,6],[-2,-8.8],[-1,-12.4],[1.4,-17.6],[9.4,-25.6],[11,-23.4],[13.2,-22.6],[21,-16],[21.8,5.6],[24,3.2],[23,2],[27.8,2.8],[-18.8,-12.4],[-17.8,-13],[-13.6,-14.6],[-16.6,-14.2]];
const npsSalmon = [[-22.4,20],[-22.8,17.2],[-23.2,14.4],[-7.8,24],[-8,22.8],[-2.8,24.4],[1,22.4],[3,21.6],[5.4,18.4],[10.8,15.6],[22.4,17.6],[14.8,-14.2],[13,-17],[12.6,-16.4],[13.8,-17.2],[15.4,-17],[-14.4,-18],[-24.8,-13.2],[-8,-25.6],[-7.4,-26],[-5.4,-26.2],[-.8,-25.8],[.6,-26.4],[.4,-25],[10.4,-29],[7,-18.2],[9.6,-18.2],[4,4],[-15,4],[14.4,2.2],[17,2.4],[28,-3],[23.4,-8]];
const npsCyanEdge = [[-9.8,24.8],[-3,23.6],[.8,24.8],[6.6,25],[13.6,18.8],[14,12.6],[15.8,14],[21,11.8],[20.4,9.6],[21.6,8.2],[22.4,7],[-27.6,2.5],[-26.6,8.3],[-27.2,-3.4],[-25,11.4],[-26.2,8],[-24.8,-5],[-16,-14],[-15,-13.6],[-11.6,-20.2],[-11.4,-21],[-.2,-19],[-.2,-21.8],[-5.6,-27],[13,-25.2],[17,-13.6],[19,-15.5],[22.6,-11.2],[24,-8.8],[25.2,-2],[23.8,-2.6],[26.6,-5.2],[26,-5.4],[28,-2.4],
[-28.4,.4],[-27,4],[-25,9.8],[-23.8,11.8],[-22.6,13],[-21,15.2],[-21.4,12],[-12.4,23.6],[-9.6,22.6],[-6.8,22.4],[-3.6,21.2],[-.4,20.6],[15,16.6],[15.8,9],[17.6,6.2],[19.2,5],[21.4,2.6],[23.6,-1.4],[25,-4],[25.2,-8],[22,-10.4],[19.6,-12.2],[16.8,-12.8],[13.6,-14.8],[10.6,-15.8],[6,-16.8],[2,-16.6],[-2.8,-17.6],[-6.2,-18.8],[-9.8,-18.4],[-11.6,-15.2],[-14,-12.6],[-17,-11],[-20,-8.4],[-23,-5.2],[-26.4,-3.2]];
const npsPurpleEdge = [[-15.8,-16.6],[-14.8,-14.8],[-18.8,-13.6],[-1.6,-24],[0,-24.8],[-.6,-26],[.8,-26.5],[-1.2,-25.2],[27,.4],[27.8,-.6],[28.2,-1.8],[28,-3],[27.4,-4.4],[26.6,-5],[20,-14],[0,24.6],[-1,23.4],[15,21.2],[15,22],[17,16.8],[19,15.8],[14,-6.5],[-24,-9],[-22,-11],[-20.4,-10],[0,-18.4],[5.8,-17],[6.8,-17.4],[-1.5,-18.8]];

const afsMain = [[-22.4,10.3],[-19.6,12.7],[-17.6,17.1],[-15.7,20.5],[-11.9,22.2],[-7.4,24.2],[-2.9,25.6],[2.2,25.4],[7.4,23.9],[11.9,23.2],[15.7,20],[16.3,16.2],[18.3,13.7],[22.8,11.3],[26.6,9.3],[26,7.4],[22,6.9],[21.5,4],[22.8,1.1],[20.2,-1.8],[16.3,-3.3],[17.6,-6.7],[17.9,-11.6],[16.3,-15.5],[11.2,-16.4],[9.9,-19.9],[8,-22.3],[5.4,-23.3],[3.5,-26.7],[-1,-29.1],[-6.7,-29.3],[-8.7,-25.2],[-13.1,-25],[-15.7,-21.3],[-17,-18.4],[-18.3,-14],[-23.4,-11.6],[-24.6,-6.2],[-21.5,-3.8],[-20.8,.1],[-18.9,3.5],[-21.5,6.9]];
const afsLobes = [
[[-30,3.2],[-28.8,3.5],[-25.6,2.5],[-26,-.9],[-27,-3.6],[-28.6,-3.4],[-29.2,.6]],
[[19.5,-6.2],[21.1,-4.6],[24.6,-4.8],[26.2,-6.5],[24.6,-8.7],[22,-9.4],[20.1,-8]],
[[12.5,-21],[15.1,-21.4],[18.3,-20.8],[21,-21.2],[20.2,-22.7],[16.3,-23.2],[13.8,-22.7]]];
const afsTealBlobs = [[[12.5,-13],[13.8,-11],[15.4,-9.2],[18,-10.2],[18,-13],[16.3,-15.5],[13.8,-16]]];
const afsGaps = [[-9.4,-15.4],[-8.6,-16.6],[-8,-17.6],[-7,-17],[-6.4,-16],[-5.9,-17.4],[-5.6,-19],[-7,-19.8],[-5.8,-20.4],[-4.6,-20.6],[-3,-20.4],[-1.6,-20.3],[-.2,-20.5],[1.2,-20.4],[3,-20.6],[-10.6,-17.6],[-11.6,-16.6],[-12.8,-15.4],[-14.6,-12.6],[-14,-13.8],[-13.6,-14.8],[13.4,-2.6],[14.6,-2.8],[15.6,-3],[16.4,-3.8],[13.2,3.6],[14.2,2.8],[15.8,5.6],[17,6.6],[18,6.2],[-17.4,.6],[-18.4,1.6],[-17.9,-.6],[-11,-22],[-9.6,-22.6],[-13,-17.2],[-12.2,-18.4],[-4,-17],[-3.4,-18.4],[-3.2,-24.8],[-2.6,-26],[-1.4,-26.2],[-.4,-26],[-1.6,-24.6],[-5.4,-25.6]];
const afsTeal = [
[21,-10,-4,1,4.5],[20,-13,-6.8,-.4,3.2,3.6],[18,-14,-16,-10,-5,-2,3,6],[17,-15.8,-14.4,-9,1.2,7.2],[16,-16.5,-12,-3.8,-1,5,9],[15,-15,-9,-6,2,7,8.4,9.6,10.8],
[14,-14,-11,-3,.4,4,6.8,9,10.4],[13,-16,-8,-2,3,4.8,5.4,7.8,11],[12,-13,-9.4,-4,1,5,9.8],[10.5,-12,-6,-2.4,5.8,8.4,13],[9,-15,-10,-4.8,.4,6],
[7.5,-14,-11,-7,-3,11],[6,-15.8,-12.4,-8.2,-4.2,9,13.4],[4.5,-16.6,-13,-9.2,5,11.6],[3,-16,-11.6,-6.4,7,13],[1.5,-18.6,-14,-8.8],[0,-16.8,-12.4,-6.2],
[-1.5,-20.4,-15,-10.6,-4.4],[-3,-12.6,-8,12,14.8],[-4,-13.4,-11,-4.2,3,7],[-5.2,-18,-14,-8.2,-1],[-6.4,-15.8,-10.2,-5,4,8.8],[-8,-12,-7,-2.6],[-9.5,-15,-9,-5.4,2.6],
[-11,-16.4,-13,-7.6,-3],[-12.5,-11,-8,-5,7,9],[-14,-13.4,-9,-6,-1],[-15.5,-16.4,-15,-13.4,-7,-3,3],[-17,-17,-15.4,-14,-12,-4,1,5],[-18.5,-16.2,-14.6,-13,-10,-7.4],
[-20,-15.8,-14,-12,-10.8,-8],[-21.5,-14.6,-13.2,-11.4,-9],[-23,-14,-12.4,-11,-8.2,-7,-1.8,-1.4],[-24.5,-12,-10.6,-7.4,-6.2,-2,3],[-26,-7.2,-6.4],[-27.5,1,3.2,4.2]];
const afsTeal2 = [
[19,-12,-8,2,5],[16.5,-14,-7,6.8,8.6],[14.5,-12.6,-1,3,8],[12.5,-15,-6,2,6.6],[11,-10,-1,7],[9.5,-18,-13,-7.4,3],[8,-17,-10],[6.5,-16,-13,-3],[5,-14.8,-10.8],[3.5,-18,-14.6,-8],[2,-16.8,-10],[.5,-19,-15,-8.6],
[-1,-18,-13,-7],[-2.5,-19,-16.6,-11],[-3.5,-15.8,-9],[-5.5,-16,-12.4,-6],[-7,-18,-13,-8],[-8.5,-16.6,-10.6,-4],[-10,-14,-7,1],[-12,-14.6,-10,-6.6,4],[-13.5,-15.4,-11,-3,5],[-15,-14.4,-10.2,-5,1],[-16,-16,-14,-12,-8],
[-17.5,-16.4,-13.6,-10.8,-4],[-19,-15.4,-13.4,-11],[-20.5,-15,-12.6,-10],[-22,-13.8,-12,-10.4,-8],[-24,-13,-10.6,-8,-6.8],[-25,-11,-7,-6],[2.5,-29.4,-28.6],[1.5,-29,-28.2],[.5,-28.4,-27.8]];
const afsGreen = [[-11,22.4],[-8,23.6],[-8.6,24.4],[-6.4,22],[-3.8,24],[.4,19],[1.4,20],[3.4,26],[5.6,25.4],[7,24.6],[14,18.6],[15,17],[17,16],[18,17.2],[18.6,15],[19,13.4],[21,12.8],[23,12],[24,11.4],[24.6,10.2],[25.6,7.4],[21.6,5.2],[20,3.4],[15.8,-1],[16.4,-4],[22.4,-3.4],[23.8,-3.4],[22.6,-10],[23.4,-9.4],[24,-5],[25,-5],[-21.8,-1.2],[-19,7.6],[-17,5.6],[-15,3.6],[-13,6],[-12.6,5],[10,6],[8,11.6],[12.8,13],[15.4,13.4],[12,-6.4],[13,-9],[17.6,-10],[18.6,-12.6],[18.4,-14],[17,-15.4],[15.6,-15.6],[14.4,-16.6],[14,-17.8],[13,-15],[9.6,-13],[10.4,-15.2],[10.6,-18],[7.6,-19],[-17.6,-15],[-17.6,-16],[-8.6,-24],[-8,-25.8],[-7.8,-28],[-7,-28.8],[4.2,-27.6],[4.4,-26.6],[-3.4,-21],[-1,-19.6],[.8,-21],[4,-20.6]];
const afsSalmon = [[-11.4,24],[-6.4,24.2],[-3.2,25.8],[18.6,19.6],[19.4,17.4],[20.2,14],[23.4,12],[24,5.2],[25.8,-.8],[25.8,-2.8],[-22.4,12],[-22.4,6.7],[-20,-2],[-20.6,-3.2],[-23.6,-8],[-24.2,-11],[-18,13.4],[-18.6,17],[-20.2,14.6],[13,-12],[15.4,-13],[11,-13.4],[5,-20.8],[2,-20.4],[-1.8,-22],[-7.4,-29.4],[-3,-29.6],[-13.4,-24.2],[-18.8,4.4],[-18,4.4],[16,2.4],[19,-4.4],[18.2,-4.6]];
const afsCyanEdge = [[-.6,26.7],[7.2,26.9],[11,24.8],[-4.5,25.6],[-11.6,23.6],[-15.4,21.2],[-17.6,17.6],[-21.8,-3],[-21,-2.4],[-21.4,9.6],[-20.2,2],[-26.4,-.5],[19.6,-3],[20.2,-8.8],[19.2,-9],[20.8,5.8],[24.6,9],[26.8,8],[13.6,-21.8],[4.6,-27],[5.2,-25.4],[-23.6,-11.8],[-15.8,-14.4],[-9,-23.4]];
const afsPurpleEdge = [[-5,26.4],[-7.4,24.6],[-4,25.2],[1.6,25.6],[-22.8,10.5],[-21.6,11.8],[-19.6,12.8],[-29.4,-5],[-29.5,-5.4],[26,-1.8],[25.8,-2],[26.6,-6.5],[20.4,-12.6],[-17.2,-18.6],[-3,-29.4],[3.6,-27.6],[4.8,-27.6],[3,-27.4],[21.4,-2],[18.6,-2.6],[21,6],[-16,-7],
[-23,9],[-23,7.6],[-21,13],[-18,15.4],[-17,19.4],[-14,21.6],[-10,23.6],[-5.6,25],[-1,26],[4.4,25],[9.6,24],[13.8,22.4],[16.4,18],[17,15],[20,13],[25,10.4],[27,8.4],[23.4,7],[22.6,3],[23,0],[21,-3],[18,-5],[18.4,-9],[10.4,-18.4],[8.8,-21.6],[6.4,-23.4],[4.4,-25],[1.4,-28],[-3.8,-29.8],[-8,-27],[-10.4,-25.4],[-14.6,-23.6],[-16.4,-19.6],[-18.4,-16],[-21,-12.4],[-24.6,-9],[-25,-6.6],[-22.6,-4.4]];

const legendLabels = identities;

const svg = d3.select("#fig");
const defs = svg.append("defs");
const tickText = d => String(d);

// panel A and B: violin with jitter on top
function drawViolinPanel(cfg) {
    const x = d3.scalePoint().domain(identities).range(cfg.xRange).padding(0.6);
    const y = d3.scaleLinear().domain(cfg.yDomain).range(cfg.yRange);
    const g = svg.append("g");
    const step = x.step();

    const area = d3.area()
        .y(d => y(d[0]))
        .curve(d3.curveMonotoneY);

    identities.forEach((name, i) => {
        const cx = x(name);
        const offX = off => cx + off * step / 100;
        g.append("path")
            .datum(cfg.violins[i])
            .attr("d", area.x0(d => cx - d[1] * step / 100).x1(d => cx + d[1] * step / 100))
            .attr("fill", colors[i])
            .attr("stroke", "#333")
            .attr("stroke-width", 1.2);

        // solid band, with the gaps between points cut out so the violin shows through
        const top = y(cfg.core[i][0]), bottom = y(cfg.core[i][1]);
        const bandX = cx - 0.41 * step, bandW = 0.82 * step;
        const maskId = `${cfg.letter}-gaps-${i}`;
        const mask = defs.append("mask").attr("id", maskId).attr("maskUnits", "userSpaceOnUse")
            .attr("x", bandX - 6).attr("y", top - 6).attr("width", bandW + 12).attr("height", bottom - top + 12);
        mask.append("rect").attr("x", bandX - 6).attr("y", top - 6).attr("width", bandW + 12).attr("height", bottom - top + 12).attr("fill", "#fff");
        const holes = (cfg.holes ? cfg.holes[i] : []).flatMap(row => row.slice(1).map(off => ({ v: row[0], off })));
        mask.selectAll("circle").data(holes).enter().append("circle")
            .attr("cx", d => offX(d.off))
            .attr("cy", d => y(d.v))
            .attr("r", 2.7)
            .attr("fill", "#000");
        g.append("rect")
            .attr("x", bandX).attr("width", bandW)
            .attr("y", top).attr("height", bottom - top)
            .attr("fill", "#000")
            .attr("mask", `url(#${maskId})`);

        const dots = cfg.dots[i].flatMap(row => row.slice(1).map(off => ({ v: row[0], off })));
        g.selectAll(null)
            .data(dots)
            .enter().append("circle")
            .attr("cx", d => offX(d.off))
            .attr("cy", d => y(d.v))
            .attr("r", 3.1)
            .attr("fill", "#000");
    });

    const yAxis = g.append("g")
        .attr("transform", `translate(${cfg.xRange[0]},0)`)
        .call(d3.axisLeft(y).tickValues(cfg.yTicks).tickFormat(tickText).tickSize(4).tickSizeOuter(0));
    const xAxis = g.append("g")
        .attr("transform", `translate(0,${cfg.yRange[0]})`)
        .call(d3.axisBottom(x).tickSize(4).tickSizeOuter(0));
    [yAxis, xAxis].forEach(a => {
        a.selectAll(".domain").attr("stroke", "#000").attr("stroke-width", 1.6);
        a.selectAll(".tick line").attr("stroke", "#000").attr("stroke-width", 1.2);
    });
    yAxis.selectAll("text").attr("font-size", 21).attr("x", -9);
    xAxis.selectAll("text").attr("font-size", 21).attr("y", 15)
        .attr("dx", (d, i) => [-9, 2, 1, 4][i])
        .attr("dy", (d, i) => i === 3 ? "0.5em" : "0.62em");

    svg.append("text").attr("x", cfg.titleX).attr("y", 43).attr("text-anchor", "middle")
        .attr("font-size", 32).text(cfg.title);
    svg.append("text").attr("x", cfg.xLabelX).attr("y", 583).attr("text-anchor", "middle")
        .attr("font-size", 27.7).text("Identity");
    svg.append("text").attr("x", cfg.letterX).attr("y", 41).attr("text-anchor", "middle")
        .attr("font-size", 25).attr("font-weight", "bold").text(cfg.letter);
}

// panel C and D: traced silhouette plus hand-read marks
function drawTsnePanel(cfg) {
    const x = d3.scaleLinear().domain(cfg.xDomain).range(cfg.xRange);
    const y = d3.scaleLinear().domain(cfg.yDomain).range(cfg.yRange);
    const g = svg.append("g");
    const outline = d3.line().x(d => x(d[0])).y(d => y(d[1])).curve(d3.curveCatmullRomClosed.alpha(0.5));

    g.selectAll(null).data(cfg.shapes).enter().append("path")
        .attr("d", outline)
        .attr("fill", colors[3])
        .attr("stroke", colors[3])
        .attr("stroke-width", 4)
        .attr("stroke-linejoin", "round");

    const point = (data, color, r) => g.selectAll(null).data(data).enter().append("circle")
        .attr("cx", d => x(d[0]))
        .attr("cy", d => y(d[1]))
        .attr("r", r)
        .attr("fill", color);

    point(cfg.teal.flatMap(row => row.slice(1).map(t1 => [t1, row[0]])), colors[2], cfg.tealR);
    g.selectAll(null).data(cfg.tealBlobs).enter().append("path")
        .attr("d", outline).attr("fill", colors[2]);
    if (cfg.gaps) point(cfg.gaps, "#fff", 4.6);
    point(cfg.green, colors[1], 3.3);
    point(cfg.salmon, colors[0], 3.1);
    point(cfg.cyanEdge, colors[2], 3.2);
    point(cfg.purpleEdge, colors[3], 3.4);

    g.append("rect")
        .attr("x", cfg.xRange[0]).attr("y", cfg.yRange[1])
        .attr("width", cfg.xRange[1] - cfg.xRange[0]).attr("height", cfg.yRange[0] - cfg.yRange[1])
        .attr("fill", "none").attr("stroke", "#8a8a8a").attr("stroke-width", 1.4);

    const xAxis = g.append("g").attr("transform", `translate(0,${cfg.yRange[0]})`)
        .call(d3.axisBottom(x).tickValues(cfg.xTicks).tickFormat(tickText).tickSize(4).tickSizeOuter(0));
    const yAxis = g.append("g").attr("transform", `translate(${cfg.xRange[0]},0)`)
        .call(d3.axisLeft(y).tickValues(cfg.yTicks).tickFormat(tickText).tickSize(4).tickSizeOuter(0));
    [xAxis, yAxis].forEach(a => {
        a.select(".domain").remove();
        a.selectAll(".tick line").attr("stroke", "#555").attr("stroke-width", 1.2);
    });
    xAxis.selectAll("text").attr("font-size", 21).attr("y", 11);
    yAxis.selectAll("text").attr("font-size", 21).attr("x", -8);
    // the last label in panel D sits under the corner of the box, with no tick mark
    if (cfg.lastTickShift) {
        const last = xAxis.selectAll(".tick").filter(d => d === 30);
        last.select("line").remove();
        last.select("text").attr("dx", cfg.lastTickShift);
    }

    svg.append("text").attr("x", cfg.titleX).attr("y", 650).attr("text-anchor", "middle")
        .attr("font-size", 30).text(cfg.title);
    svg.append("text").attr("x", cfg.x1X).attr("y", cfg.x1Y).attr("text-anchor", "middle")
        .attr("font-size", 24.5).text("t-SNE_1");
    svg.append("text").attr("transform", `translate(${cfg.x2X},${cfg.x2Y}) rotate(-90)`).attr("text-anchor", "middle")
        .attr("font-size", 24.5).text("t-SNE_2");
    svg.append("text").attr("x", cfg.letterX).attr("y", 656).attr("text-anchor", "middle")
        .attr("font-size", 25).attr("font-weight", "bold").text(cfg.letter);
}

drawViolinPanel({
    title: "ACC1 NPs", letter: "A", titleX: 425, xLabelX: 399, letterX: 31,
    xRange: [64, 785], yRange: [512.7, 71], yDomain: [-3.75, 5.7], yTicks: [-2, 0, 2, 4],
    violins: [npsViolin1, npsViolin2, npsViolin3, npsViolin4],
    core: npsCore,
    dots: [npsDots1.concat(npsExtra1), npsDots2.concat(npsExtra2), npsDots3.concat(npsExtra3), npsDots4.concat(npsExtra4)]
});
drawViolinPanel({
    title: "ACC1 AFs", letter: "B", titleX: 1238.5, xLabelX: 1212, letterX: 843,
    xRange: [875, 1596], yRange: [512.7, 67.5], yDomain: [-4.61, 3.04], yTicks: [-4, -2, 0, 2],
    violins: [afsViolin1, afsViolin2, afsViolin3, afsViolin4],
    core: afsCore, holes: [afsHoles1, afsHoles2, afsHoles3, afsHoles4],
    dots: [afsDots1, afsDots2, afsDots3, afsDots4]
});
drawTsnePanel({
    title: "NPs", letter: "C", titleX: 434, letterX: 63,
    xRange: [98, 737], yRange: [1199.6, 668.8], xDomain: [-30.74, 32.65], yDomain: [-33.43, 27.8],
    xTicks: [-30, -20, -10, 0, 10, 20, 30], yTicks: [-30, -20, -10, 0, 10, 20],
    shapes: [npsMain, ...npsLobes], teal: npsTeal.concat(npsTeal2), tealR: 6, tealBlobs: npsTealBlobs,
    green: npsGreen, salmon: npsSalmon, cyanEdge: npsCyanEdge, purpleEdge: npsPurpleEdge,
    x1X: 411, x1Y: 1260, x2X: 45, x2Y: 950
});
drawTsnePanel({
    title: "AFs", letter: "D", titleX: 1242, letterX: 875,
    xRange: [908.3, 1548], yRange: [1196, 666.7], xDomain: [-32.53, 29.28], yDomain: [-31.87, 29.6],
    xTicks: [-30, -20, -10, 0, 10, 20, 30], yTicks: [-30, -20, -10, 0, 10, 20], lastTickShift: -14,
    shapes: [afsMain, ...afsLobes], teal: afsTeal.concat(afsTeal2), tealR: 4, tealBlobs: afsTealBlobs, gaps: afsGaps,
    green: afsGreen, salmon: afsSalmon, cyanEdge: afsCyanEdge, purpleEdge: afsPurpleEdge,
    x1X: 1249, x1Y: 1253, x2X: 860, x2Y: 958
});

// shared legend right of panel D
const legend = svg.append("g").selectAll("g")
    .data(legendLabels)
    .enter().append("g")
    .attr("transform", (d, i) => `translate(1590,${[887, 915.5, 946, 975.5][i]})`);
legend.append("circle").attr("r", 12).attr("fill", (d, i) => colors[i]);
legend.append("text").attr("x", 21).attr("y", 9).attr("font-size", 25.6).text(d => d);
</script>
</body>
</html>
